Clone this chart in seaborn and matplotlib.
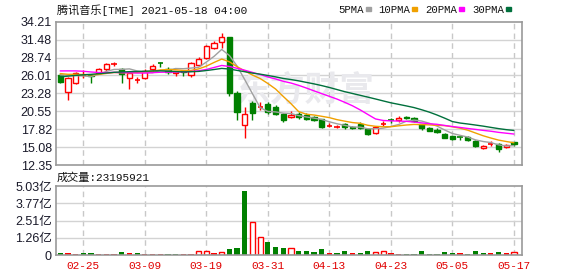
import matplotlib
matplotlib.use("Agg")
import matplotlib.pyplot as plt
import seaborn as sns
import numpy as np
import pandas as pd

# ---------------- data ----------------
title = "腾讯音乐[TME] 2021-05-18 04:00"
vol_title = "成交量:23195921"

dates = ["02-22", "02-23", "02-24", "02-25", "02-26", "03-01", "03-02", "03-03", "03-04", "03-05",
         "03-08", "03-09", "03-10", "03-11", "03-12", "03-15", "03-16", "03-17", "03-18", "03-19",
         "03-22", "03-23", "03-24", "03-25", "03-26", "03-29", "03-30", "03-31", "04-01", "04-05",
         "04-06", "04-07", "04-08", "04-09", "04-12", "04-13", "04-14", "04-15", "04-16", "04-19",
         "04-20", "04-21", "04-22", "04-23", "04-26", "04-27", "04-28", "04-29", "04-30", "05-03",
         "05-04", "05-05", "05-06", "05-07", "05-10", "05-11", "05-12", "05-13", "05-14", "05-17"]
tick_labels = ["02-25", "03-09", "03-19", "03-31", "04-13", "04-23", "05-05", "05-17"]

open_ = [26.02, 23.53, 24.90, 26.12, 26.15, 26.43, 26.94, 27.80, 26.95, 25.67,
         25.30, 25.57, 26.94, 28.00, 27.05, 26.35, 26.75, 26.10, 27.60, 28.65,
         30.20, 31.15, 31.95, 23.30, 18.45, 21.85, 21.20, 21.65, 21.25, 20.10,
         19.65, 20.20, 20.05, 19.60, 19.30, 18.20, 18.15, 18.64, 18.15, 18.54,
         17.79, 17.24, 18.60, 19.30, 19.20, 19.65, 19.55, 18.54, 18.04, 17.74,
         17.14, 16.79, 16.63, 16.68, 16.03, 14.88, 15.53, 15.53, 15.03, 15.80]
high = [26.17, 25.82, 26.48, 26.84, 26.20, 27.20, 27.85, 28.10, 27.20, 26.48,
        25.75, 26.94, 27.75, 28.00, 27.30, 26.75, 26.80, 28.10, 28.90, 30.70,
        31.30, 32.50, 31.95, 23.60, 21.15, 22.10, 21.90, 21.90, 21.50, 20.25,
        20.55, 20.50, 20.25, 19.80, 19.40, 18.70, 18.50, 18.80, 18.30, 18.90,
        17.94, 18.29, 19.04, 19.55, 19.75, 19.80, 19.70, 18.60, 18.10, 17.94,
        17.20, 16.85, 16.63, 16.80, 16.13, 15.40, 15.95, 15.78, 15.50, 15.90]
low = [24.90, 22.26, 24.65, 25.57, 24.85, 26.17, 26.70, 27.45, 24.90, 23.90,
       24.85, 25.40, 26.73, 27.35, 26.20, 26.00, 25.95, 25.80, 27.40, 28.50,
       30.00, 30.20, 22.85, 19.20, 16.45, 19.25, 20.70, 20.10, 19.95, 18.90,
       19.45, 19.40, 19.15, 19.00, 18.00, 18.20, 17.95, 17.80, 17.80, 17.85,
       16.90, 17.10, 18.29, 18.80, 18.95, 19.35, 18.90, 17.75, 17.50, 17.25,
       16.40, 16.20, 16.18, 16.00, 15.03, 14.80, 15.25, 14.37, 14.98, 15.30]
close = [25.05, 25.67, 26.33, 26.17, 25.95, 26.94, 27.75, 27.85, 26.20, 26.33,
         25.35, 26.73, 27.50, 27.90, 26.55, 26.65, 26.60, 27.95, 28.55, 30.50,
         31.00, 31.90, 23.30, 20.50, 20.10, 20.30, 21.30, 20.40, 20.15, 19.15,
         20.05, 19.70, 19.35, 19.25, 18.15, 18.25, 18.20, 18.14, 18.00, 18.04,
         17.04, 18.14, 18.65, 19.25, 19.55, 19.50, 19.04, 17.94, 17.54, 17.39,
         16.53, 16.38, 16.55, 16.18, 15.28, 15.28, 15.58, 14.78, 15.38, 15.50]
# closes before the visible window (estimated from where the MA lines start)
history_close = [22.5, 23.0, 23.4, 23.8, 24.2, 24.5, 24.6, 24.7, 24.8, 24.5,
                 25.5, 26.4, 27.3, 28.1, 28.6, 28.0, 27.2, 27.0, 26.6, 26.3,
                 26.8, 26.3, 26.6, 26.2, 26.6, 26.1, 26.5, 26.4, 26.45]

volume_yi = [0.17, 0.15, 0.07, 0.17, 0.17, 0.07, 0.07, 0.07, 0.24, 0.15,
             0.17, 0.07, 0.07, 0.07, 0.07, 0.07, 0.07, 0.07, 0.29, 0.29,
             0.17, 0.22, 0.44, 0.51, 4.67, 2.41, 1.29, 0.95, 0.58, 0.51,
             0.51, 0.29, 0.29, 0.22, 0.44, 0.15, 0.15, 0.29, 0.15, 0.15,
             0.29, 0.22, 0.29, 0.15, 0.07, 0.07, 0.07, 0.29, 0.07, 0.07,
             0.22, 0.15, 0.15, 0.07, 0.29, 0.15, 0.15, 0.22, 0.15, 0.23]
# U = up (hollow red), R = filled red, D = down (green)
volume_dir = ["D", "R", "R", "D", "D", "R", "R", "R", "D", "R",
              "D", "R", "R", "R", "D", "D", "R", "R", "U", "U",
              "R", "U", "D", "D", "D", "U", "U", "D", "D", "D",
              "U", "D", "D", "D", "D", "R", "D", "D", "R", "D",
              "D", "U", "U", "R", "R", "D", "D", "D", "D", "D",
              "D", "D", "R", "D", "D", "D", "R", "D", "R", "U"]

price_ticks = [12.35, 15.08, 17.82, 20.55, 23.28, 26.01, 28.74, 31.48, 34.21]
vol_ticks = [0, 1.26, 2.51, 3.77, 5.03]
vol_tick_labels = ["0", "1.26亿", "2.51亿", "3.77亿", "5.03亿"]
ma_windows = [5, 10, 20, 30]
ma_names = ["5PMA", "10PMA", "20PMA", "30PMA"]
ma_colors = ["#a0a0a0", "#f0a000", "#ff00ff", "#00703c"]

# ---------------- build frame ----------------
n = len(close)
idx = np.arange(n)
df = pd.DataFrame({"i": idx, "date": dates, "open": open_, "high": high,
                   "low": low, "close": close, "vol": volume_yi, "vdir": volume_dir})
full = pd.Series(history_close + close)
for w, name in zip(ma_windows, ma_names):
    df[name] = full.rolling(w).mean().iloc[len(history_close):].to_numpy()

sns.set_style("white")
plt.rcParams["font.family"] = ["Noto Sans CJK SC", "DejaVu Sans"]

W, H = 578, 276
fig = plt.figure(figsize=(W / 100, H / 100), dpi=100)
fig.patch.set_facecolor("white")

def px_axes(l, t, r, b):
    return fig.add_axes([l / W, 1 - b / H, (r - l) / W, (b - t) / H])

axp = px_axes(56, 21.7, 522, 165)
axv = px_axes(56, 186, 522, 255)

RED = "#ff0000"
GREEN = "#008000"
GRID = "#d3d3d3"
FRAME = "#999999"
MONO_CJK = ["Liberation Mono", "Noto Sans CJK SC"]
SANS_CJK = ["Liberation Sans", "Noto Sans CJK SC"]
xlim = (-0.55, n - 1 + 1.05)
tick_pos = [dates.index(t) for t in tick_labels]

for ax in (axp, axv):
    ax.set_xlim(*xlim)
    for s in ax.spines.values():
        s.set_color(FRAME)
        s.set_linewidth(1.2)
    for tp in tick_pos:
        ax.axvline(tp, color="#c8c8c8", lw=1, ls=(0, (4, 3)), zorder=0)
    ax.tick_params(length=0, pad=3)

# --- price panel ---
axp.set_ylim(price_ticks[0], price_ticks[-1])
for y in price_ticks[1:-1]:
    axp.axhline(y, color=GRID, lw=1, zorder=0)
axp.set_yticks(price_ticks)
axp.set_yticklabels([f"{t:.2f}" for t in price_ticks], fontsize=9, color="#1a1a2a",
                    family=SANS_CJK)
axp.set_xticks([])

axp.text((305 - 56) / 466, (165 - 90) / 143.3, "东方财富", transform=axp.transAxes,
         fontsize=25, fontweight="bold", color="#e9e9ed", ha="center", va="center", zorder=0)

bw = 0.68
for r in df.itertuples():
    up = r.close >= r.open
    col = RED if up else GREEN
    axp.vlines(r.i, r.low, r.high, color=col, lw=1, zorder=2)
    h = abs(r.close - r.open)
    bot = min(r.open, r.close)
    if h < 0.12:
        axp.hlines((r.open + r.close) / 2, r.i - bw / 2, r.i + bw / 2, color=col, lw=1.2, zorder=3)
    else:
        axp.bar(r.i, h, bottom=bot, width=bw,
                facecolor="white" if up else GREEN, edgecolor=col, lw=1, zorder=3)

for name, colr in zip(ma_names, ma_colors):
    sns.lineplot(data=df, x="i", y=name, ax=axp, color=colr, lw=1, zorder=4, legend=False)
axp.set_xlabel("")
axp.set_ylabel("")
axp.set_xlim(*xlim)

# --- volume panel ---
axv.set_ylim(0, vol_ticks[-1])
for y in vol_ticks[1:-1]:
    axv.axhline(y, color=GRID, lw=1, zorder=0)
axv.set_yticks(vol_ticks)
axv.set_yticklabels(vol_tick_labels, fontsize=9, color="#1a1a2a", family=SANS_CJK)
for r in df.itertuples():
    if r.vdir == "U":
        axv.bar(r.i, r.vol, width=bw, facecolor="white", edgecolor=RED, lw=1, zorder=2)
    else:
        axv.bar(r.i, r.vol, width=bw, color=RED if r.vdir == "R" else GREEN, lw=0, zorder=2)
axv.set_xticks(tick_pos)
axv.set_xticklabels(tick_labels, fontsize=8, color="#e00000", family=MONO_CJK)
axv.tick_params(axis="x", pad=4)

# --- texts ---
fig.text(57 / W, 1 - 10 / H, title, fontsize=8, va="center", ha="left",
         color="#111111", family=MONO_CJK)
fig.text(57 / W, 1 - 178 / H, vol_title, fontsize=8, va="center", ha="left",
         color="#111111", family=MONO_CJK)

# MA legend
lx = 338
fig.canvas.draw()
for name, colr in zip(ma_names, ma_colors):
    t = fig.text(lx / W, 1 - 10 / H, name, fontsize=7.7, va="center", ha="left",
                 color="#111111", family=MONO_CJK)
    bb = t.get_window_extent(renderer=fig.canvas.get_renderer())
    sx = bb.x1 + 2
    fig.patches.append(plt.Rectangle((sx / W, 1 - 11 / H), 5 / W, 4 / H,
                                     transform=fig.transFigure, color=colr, figure=fig))
    lx = sx + 5 + 8

fig.savefig("out.png", dpi=100, facecolor="white")
